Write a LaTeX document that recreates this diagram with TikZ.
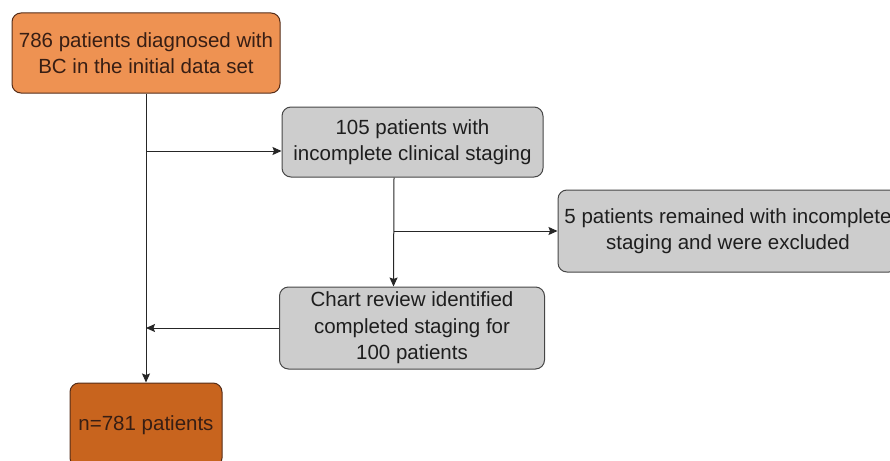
\documentclass[tikz,border=0pt]{standalone}
\usepackage{fontspec}
\setmainfont{Liberation Sans}
\usetikzlibrary{arrows.meta}
\definecolor{boxorange}{RGB}{238,146,82}
\definecolor{boxdark}{RGB}{200,100,30}
\definecolor{boxgray}{RGB}{205,205,205}
\definecolor{borderbrown}{RGB}{85,45,25}
\definecolor{bordergray}{RGB}{70,70,70}
\definecolor{textbrown}{RGB}{55,30,20}
\definecolor{textgray}{RGB}{30,30,30}
\begin{document}
\begin{tikzpicture}[x=1pt,y=-1pt,
  box/.style={draw, rounded corners=9pt, line width=1pt, inner sep=0pt, align=center,
    font=\fontsize{20.5}{26.5}\selectfont},
  orangebox/.style={box, fill=boxorange, draw=borderbrown, text=textbrown},
  darkbox/.style={box, fill=boxdark, draw=borderbrown, text=textbrown},
  graybox/.style={box, fill=boxgray, draw=bordergray, text=textgray},
  line/.style={line width=1pt, draw=black!85},
  arr/.style={line, -{Stealth[length=9pt,width=8pt,inset=1.5pt]}}]
\useasboundingbox (0,0) rectangle (890,460);
\clip (0,0) rectangle (890,460);
\node[orangebox, minimum width=268pt, minimum height=80pt] (b1) at (146,53)
  {786 patients diagnosed with\\BC in the initial data set};
\node[graybox, minimum width=261pt, minimum height=70pt] (b2) at (412.5,142)
  {105 patients with\\incomplete clinical staging};
\node[graybox, minimum width=340pt, minimum height=82pt] (b3) at (728,231)
  {5 patients remained with incomplete\\staging and were excluded};
\node[graybox, minimum width=265pt, minimum height=82pt] (b4) at (412,328)
  {Chart review identified\\completed staging for\hspace*{22pt}\\100 patients};
\node[darkbox, minimum width=152pt, minimum height=84pt] (b5) at (146,425)
  {n=781 patients};
\coordinate (j1) at (146,151);
\coordinate (j2) at (394,231);
\draw[arr] (b1.south) -- (b5.north);
\draw[arr] (j1) -- (j1 -| b2.west);
\draw[arr] ([xshift=-18.5pt]b2.south) -- ([xshift=-18.5pt]b4.north);
\draw[arr] (j2) -- (j2 -| b3.west);
\draw[arr] (b4.west) -- (b4.west -| b1.south);
\end{tikzpicture}
\end{document}
